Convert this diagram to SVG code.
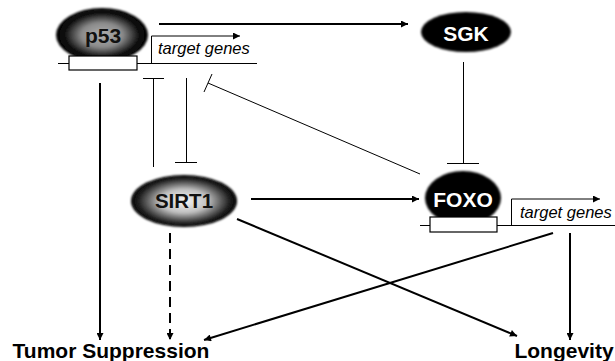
<svg xmlns="http://www.w3.org/2000/svg" width="615" height="361" viewBox="0 0 615 361">
<style>
.lbl{font-family:"Liberation Sans",Arial,sans-serif;font-weight:bold;text-anchor:middle}
.tg{font-family:"Liberation Sans",Arial,sans-serif;font-style:italic;font-size:16.5px;fill:#000}
.thick{stroke:#000;stroke-width:2;fill:none}
.thin{stroke:#000;stroke-width:1;fill:none}
.box{fill:#fff;stroke:#000;stroke-width:1.2}
</style>
<defs>
<radialGradient id="gP53" cx="50%" cy="50%" r="50%">
<stop offset="0" stop-color="#b0b0b0"/>
<stop offset="0.45" stop-color="#8a8a8a"/>
<stop offset="0.8" stop-color="#111"/>
<stop offset="1" stop-color="#000"/>
</radialGradient>
<radialGradient id="gSIRT" cx="50%" cy="50%" r="50%">
<stop offset="0" stop-color="#f6f6f6"/>
<stop offset="0.45" stop-color="#c0c0c0"/>
<stop offset="0.85" stop-color="#222"/>
<stop offset="1" stop-color="#000"/>
</radialGradient>
<filter id="soft" x="-10%" y="-10%" width="120%" height="120%"><feGaussianBlur stdDeviation="0.8"/></filter>
<marker id="ah" viewBox="0 0 10 10" refX="10" refY="5" markerWidth="10" markerHeight="7" markerUnits="userSpaceOnUse" orient="auto"><path d="M0,0 L10,5 L0,10 z" fill="#000"/></marker>
</defs>

<g id="p53">
<ellipse cx="102" cy="35" rx="46" ry="27" fill="url(#gP53)" filter="url(#soft)"/>
<text class="lbl" x="103" y="43" font-size="21" fill="#111">p53</text>
<line x1="58" y1="63.5" x2="257" y2="63.5" class="thin"/>
<rect x="69" y="56" width="68" height="14" class="box"/>
<polyline points="151.5,63.5 151.5,36 240,36" class="thin" marker-end="url(#ah)"/>
<text class="tg" x="158" y="54">target genes</text>
</g>

<g id="SGK">
<ellipse cx="466" cy="32" rx="45" ry="20" fill="#000" filter="url(#soft)"/>
<text class="lbl" x="466" y="41" font-size="21" fill="#fff">SGK</text>
</g>

<g id="SIRT1">
<ellipse cx="184" cy="201" rx="53" ry="26" fill="url(#gSIRT)" filter="url(#soft)"/>
<text class="lbl" x="184" y="208" font-size="20.5" fill="#111">SIRT1</text>
</g>

<g id="FOXO">
<ellipse cx="463" cy="198" rx="38" ry="27" fill="#000" filter="url(#soft)"/>
<text class="lbl" x="463" y="207" font-size="21" fill="#fff">FOXO</text>
<line x1="420" y1="225.5" x2="615" y2="225.5" class="thin"/>
<rect x="430" y="217" width="67" height="15" class="box"/>
<polyline points="511.5,225.5 511.5,199 600,199" class="thin" marker-end="url(#ah)"/>
<text class="tg" x="520" y="218">target genes</text>
</g>

<g id="TumorSuppression">
<text class="lbl" x="111" y="358" font-size="21" fill="#000">Tumor Suppression</text>
</g>
<g id="Longevity">
<text class="lbl" x="564" y="358" font-size="21" fill="#000">Longevity</text>
</g>

<g id="connectors">
<line x1="159" y1="24" x2="408" y2="24" class="thick" marker-end="url(#ah)"/>
<line x1="463.5" y1="62" x2="463.5" y2="163" class="thin"/>
<line x1="447" y1="163.5" x2="479" y2="163.5" class="thin"/>
<line x1="153.5" y1="167" x2="153.5" y2="78" class="thin"/>
<line x1="143" y1="78.5" x2="164" y2="78.5" class="thin"/>
<line x1="186.5" y1="78" x2="186.5" y2="162" class="thin"/>
<line x1="175" y1="162.5" x2="197" y2="162.5" class="thin"/>
<line x1="420" y1="174" x2="208" y2="83" class="thin"/>
<line x1="212" y1="74" x2="204" y2="92" class="thin"/>
<line x1="251" y1="199" x2="419" y2="199" class="thick" marker-end="url(#ah)"/>
<line x1="100" y1="83" x2="100" y2="340" class="thick" marker-end="url(#ah)"/>
<line x1="170" y1="233" x2="170" y2="340" class="thick" stroke-dasharray="10,6" marker-end="url(#ah)"/>
<line x1="553" y1="233" x2="204" y2="340" class="thick" marker-end="url(#ah)"/>
<line x1="237" y1="219" x2="517" y2="336" class="thick" marker-end="url(#ah)"/>
<line x1="570" y1="233" x2="570" y2="340" class="thick" marker-end="url(#ah)"/>
</g>
</svg>
